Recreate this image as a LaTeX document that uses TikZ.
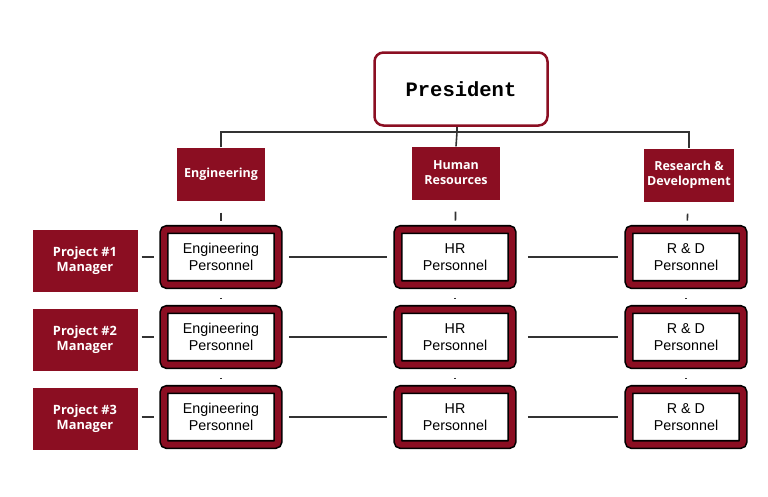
\documentclass[tikz,border=0pt]{standalone}
\usepackage{fontspec}
\setmainfont{Liberation Sans}
\newfontfamily\headfont{Open Sans}
\newfontfamily\presfont{Liberation Mono}
\usepackage{tikz}
\usetikzlibrary{positioning}
\definecolor{bordeaux}{RGB}{139,14,34}
\tikzstyle{presbox}=[
        draw=bordeaux,
        line width=2.5pt,
        rounded corners=9pt,
        fill=white,
        minimum width=173pt,
        minimum height=73pt,
        font=\presfont\bfseries\fontsize{20.5}{22}\selectfont
]
\tikzstyle{dept}=[fill=bordeaux,text=white,align=center,minimum width=88pt,minimum height=53pt,font=\headfont\bfseries\fontsize{12.5}{15}\selectfont]
\tikzstyle{manager}=[dept,minimum width=105pt,minimum height=62pt,font=\headfont\bfseries\fontsize{12.8}{15}\selectfont]
\tikzstyle{staff}=[draw=black,line width=1.6pt,double=bordeaux,double distance=6pt,fill=white,rounded corners=3pt,
minimum width=114pt,minimum height=55pt,align=center,font=\fontsize{14.3}{17}\selectfont]
\tikzstyle{link}=[draw=black!80,line width=1.6pt]
\tikzstyle{tick}=[link,shorten <=12pt,shorten >=8pt]
\tikzstyle{dot}=[link,shorten <=12.5pt,shorten >=9.5pt]

\begin{document}
\begin{tikzpicture}[x=1pt,y=-1pt]
\useasboundingbox (0,0) rectangle (768,496);
\node[presbox] (pres) at (461,89) {President};
\node[dept] (eng) at (221,174) {Engineering};
\node[dept] (hr) at (456,173) {Human\\Resources};
\node[dept] (rnd) at (689,175) {Research \&\\Development};
\node[manager] (m1) at (85,261) {Project \#1\\Manager};
\node[manager] (m2) at (85,340) {Project \#2\\Manager};
\node[manager] (m3) at (85,419) {Project \#3\\Manager};
\node[staff] (e1) at (221,257) {Engineering\\Personnel};
\node[staff] (e2) at (221,337) {Engineering\\Personnel};
\node[staff] (e3) at (221,417) {Engineering\\Personnel};
\node[staff] (h1) at (455,257) {HR\\Personnel};
\node[staff] (h2) at (455,337) {HR\\Personnel};
\node[staff] (h3) at (455,417) {HR\\Personnel};
\node[staff] (r1) at (686,257) {R \& D\\Personnel};
\node[staff] (r2) at (686,337) {R \& D\\Personnel};
\node[staff] (r3) at (686,417) {R \& D\\Personnel};
\coordinate (bus) at (457,132);
%lignes
\draw[link] (pres.south -| bus) -- (bus);
\draw[link] (eng.north) |- (bus) -| (rnd.north);
\draw[link] (bus) -- (hr.north);
\draw[tick] (eng) -- (e1);
\draw[tick] (hr) -- (h1);
\draw[tick] (rnd) -- (r1);
\draw[dot] (e1) -- (e2);
\draw[dot] (e2) -- (e3);
\draw[dot] (h1) -- (h2);
\draw[dot] (h2) -- (h3);
\draw[dot] (r1) -- (r2);
\draw[dot] (r2) -- (r3);
\draw[link,shorten <=4pt,shorten >=9pt] (m1.east |- e1) -- (e1.west);
\draw[link,shorten <=4pt,shorten >=9pt] (m2.east |- e2) -- (e2.west);
\draw[link,shorten <=4pt,shorten >=9pt] (m3.east |- e3) -- (e3.west);
\draw[link,shorten <=10pt,shorten >=10pt] (e1) -- (h1);
\draw[link,shorten <=10pt,shorten >=10pt] (e2) -- (h2);
\draw[link,shorten <=10pt,shorten >=10pt] (e3) -- (h3);
\draw[link,shorten <=15pt,shorten >=10pt] (h1) -- (r1);
\draw[link,shorten <=15pt,shorten >=10pt] (h2) -- (r2);
\draw[link,shorten <=15pt,shorten >=10pt] (h3) -- (r3);
\end{tikzpicture}
\end{document}
